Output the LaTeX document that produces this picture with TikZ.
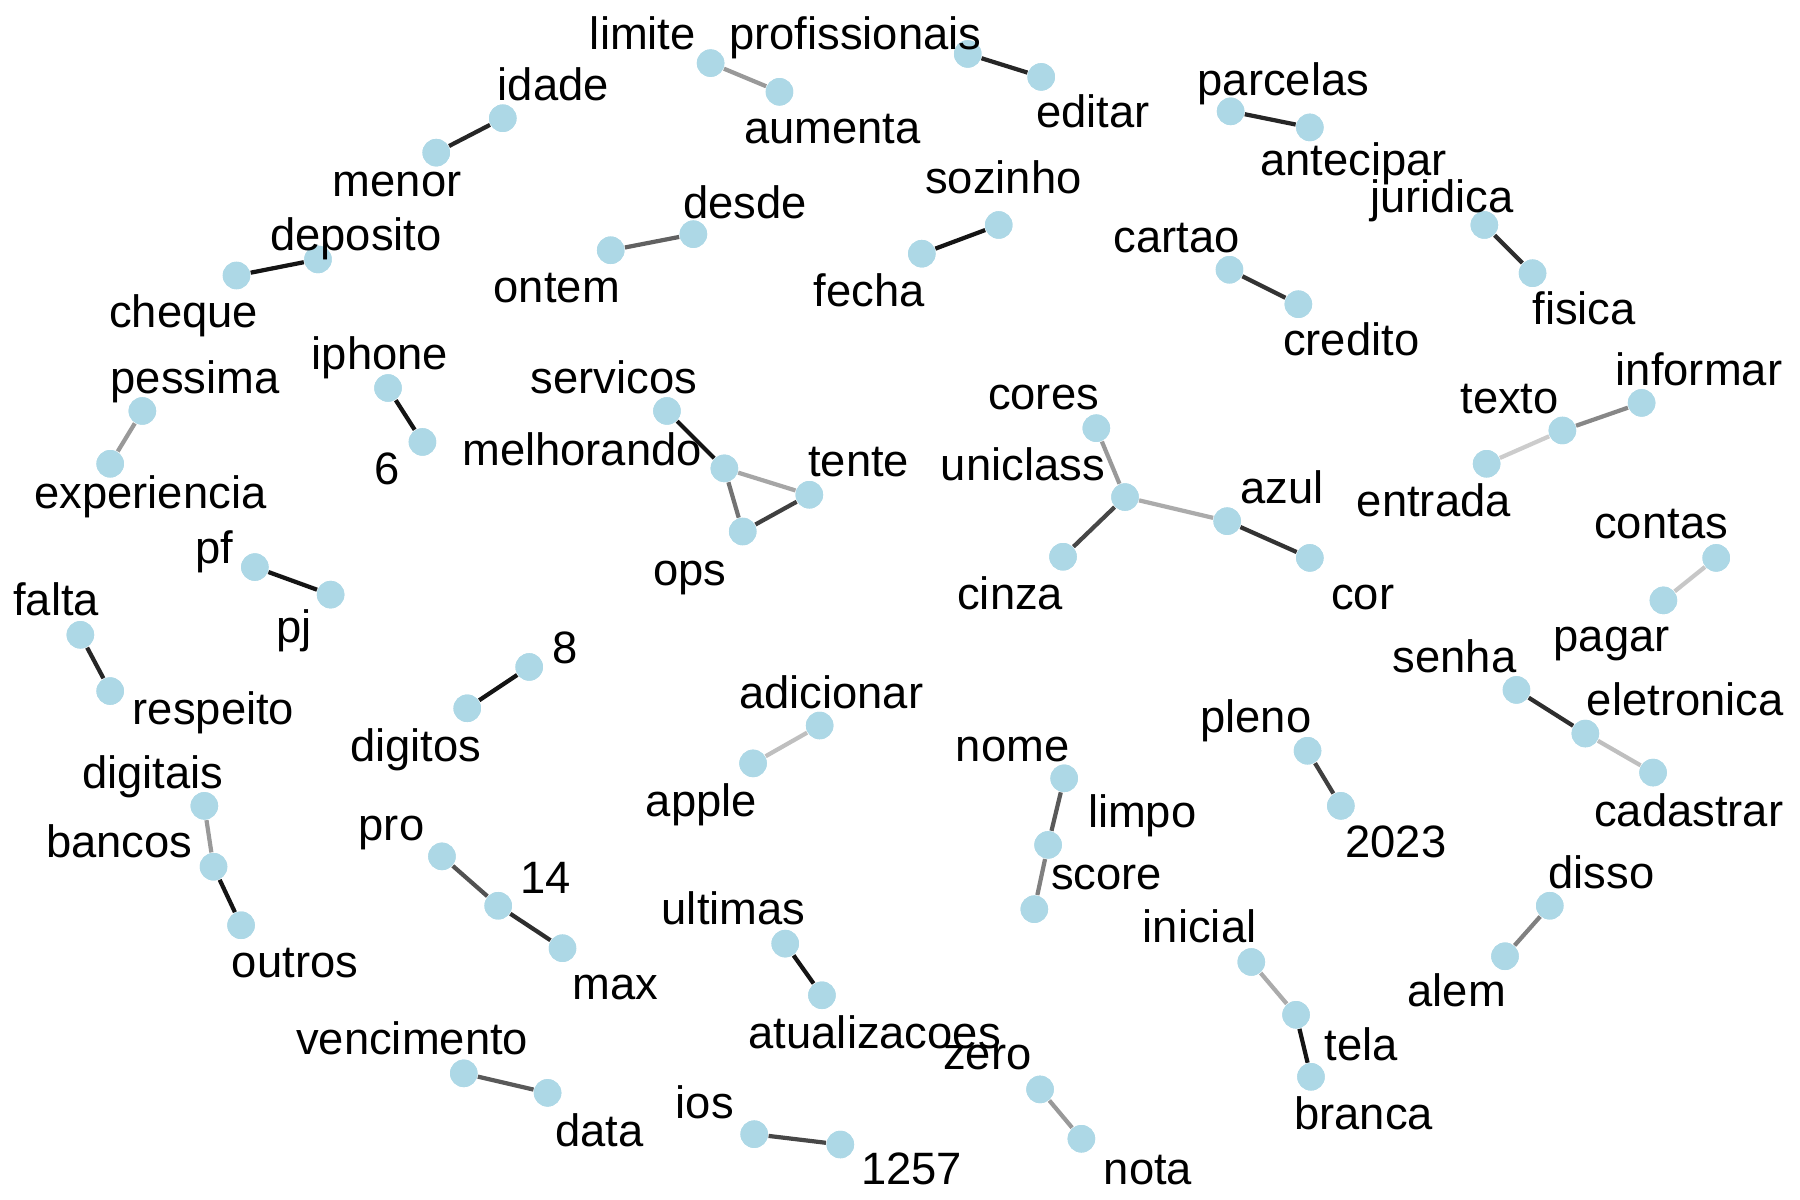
\documentclass[tikz,border=0pt]{standalone}
\usepackage{fontspec}
\setmainfont{Liberation Sans}
\definecolor{dotblue}{RGB}{173,216,230}
\begin{document}
\begin{tikzpicture}[x=0.01148cm,y=-0.01148cm,
    wd/.style={circle,fill=dotblue,inner sep=0pt,minimum size=2.75mm},
    lbl/.style={font=\fontsize{12.9}{15}\selectfont,inner sep=0pt,text height=0.72em,text depth=0.2em,yshift=-0.57mm},
    lk/.style={line width=1.2pt,draw=black!#1},
  ]
\useasboundingbox (0,0) rectangle (1568,1045);
% words
\node[wd] (limite) at (619,55) {};
\node[wd] (aumenta) at (679,80) {};
\node[wd] (profissionais) at (843,47) {};
\node[wd] (editar) at (907,67) {};
\node[wd] (idade) at (438,103) {};
\node[wd] (menor) at (380,133) {};
\node[wd] (parcelas) at (1072,97) {};
\node[wd] (antecipar) at (1141,111) {};
\node[wd] (desde) at (604,204) {};
\node[wd] (ontem) at (532,218) {};
\node[wd] (sozinho) at (870,196) {};
\node[wd] (fecha) at (803,221) {};
\node[wd] (deposito) at (277,226) {};
\node[wd] (cheque) at (206,240) {};
\node[wd] (juridica) at (1293,196) {};
\node[wd] (fisica) at (1335,238) {};
\node[wd] (cartao) at (1071,235) {};
\node[wd] (credito) at (1131,265) {};
\node[wd] (pessima) at (124,358) {};
\node[wd] (experiencia) at (96,404) {};
\node[wd] (iphone) at (338,338) {};
\node[wd] (n6) at (368,385) {};
\node[wd] (servicos) at (581,358) {};
\node[wd] (melhorando) at (631,408) {};
\node[wd] (tente) at (705,431) {};
\node[wd] (ops) at (647,463) {};
\node[wd] (cores) at (955,373) {};
\node[wd] (uniclass) at (980,433) {};
\node[wd] (cinza) at (926,485) {};
\node[wd] (azul) at (1069,454) {};
\node[wd] (cor) at (1141,486) {};
\node[wd] (texto) at (1361,375) {};
\node[wd] (informar) at (1430,351) {};
\node[wd] (entrada) at (1295,404) {};
\node[wd] (contas) at (1495,486) {};
\node[wd] (pagar) at (1449,523) {};
\node[wd] (pf) at (222,494) {};
\node[wd] (pj) at (288,518) {};
\node[wd] (falta) at (70,553) {};
\node[wd] (respeito) at (96,602) {};
\node[wd] (n8) at (461,581) {};
\node[wd] (digitos) at (407,617) {};
\node[wd] (adicionar) at (714,632) {};
\node[wd] (apple) at (656,665) {};
\node[wd] (senha) at (1321,601) {};
\node[wd] (eletronica) at (1381,639) {};
\node[wd] (cadastrar) at (1440,673) {};
\node[wd] (pleno) at (1139,654) {};
\node[wd] (n2023) at (1168,702) {};
\node[wd] (nome) at (927,678) {};
\node[wd] (limpo) at (913,736) {};
\node[wd] (score) at (901,792) {};
\node[wd] (digitais) at (178,702) {};
\node[wd] (bancos) at (186,755) {};
\node[wd] (outros) at (210,806) {};
\node[wd] (pro) at (385,746) {};
\node[wd] (n14) at (434,789) {};
\node[wd] (max) at (490,826) {};
\node[wd] (ultimas) at (684,822) {};
\node[wd] (atualizacoes) at (716,867) {};
\node[wd] (disso) at (1350,789) {};
\node[wd] (alem) at (1311,833) {};
\node[wd] (inicial) at (1090,838) {};
\node[wd] (tela) at (1129,884) {};
\node[wd] (branca) at (1142,938) {};
\node[wd] (vencimento) at (404,935) {};
\node[wd] (data) at (477,952) {};
\node[wd] (zero) at (906,949) {};
\node[wd] (nota) at (942,992) {};
\node[wd] (ios) at (657,988) {};
\node[wd] (n1257) at (732,997) {};
% bigram links
\draw[lk=40] (limite) -- (aumenta);
\draw[lk=85] (profissionais) -- (editar);
\draw[lk=85] (idade) -- (menor);
\draw[lk=85] (parcelas) -- (antecipar);
\draw[lk=62] (desde) -- (ontem);
\draw[lk=92] (sozinho) -- (fecha);
\draw[lk=92] (deposito) -- (cheque);
\draw[lk=82] (juridica) -- (fisica);
\draw[lk=80] (cartao) -- (credito);
\draw[lk=40] (pessima) -- (experiencia);
\draw[lk=92] (iphone) -- (n6);
\draw[lk=92] (servicos) -- (melhorando);
\draw[lk=35] (melhorando) -- (tente);
\draw[lk=55] (melhorando) -- (ops);
\draw[lk=75] (ops) -- (tente);
\draw[lk=40] (cores) -- (uniclass);
\draw[lk=72] (uniclass) -- (cinza);
\draw[lk=33] (uniclass) -- (azul);
\draw[lk=80] (azul) -- (cor);
\draw[lk=20] (entrada) -- (texto);
\draw[lk=47] (texto) -- (informar);
\draw[lk=22] (contas) -- (pagar);
\draw[lk=92] (pf) -- (pj);
\draw[lk=85] (falta) -- (respeito);
\draw[lk=92] (n8) -- (digitos);
\draw[lk=25] (adicionar) -- (apple);
\draw[lk=82] (senha) -- (eletronica);
\draw[lk=25] (eletronica) -- (cadastrar);
\draw[lk=75] (pleno) -- (n2023);
\draw[lk=65] (nome) -- (limpo);
\draw[lk=50] (limpo) -- (score);
\draw[lk=40] (digitais) -- (bancos);
\draw[lk=92] (bancos) -- (outros);
\draw[lk=68] (pro) -- (n14);
\draw[lk=82] (n14) -- (max);
\draw[lk=92] (ultimas) -- (atualizacoes);
\draw[lk=50] (disso) -- (alem);
\draw[lk=33] (inicial) -- (tela);
\draw[lk=92] (tela) -- (branca);
\draw[lk=65] (vencimento) -- (data);
\draw[lk=40] (zero) -- (nota);
\draw[lk=72] (ios) -- (n1257);
% redraw dots over the links
\foreach \w in {limite,aumenta,profissionais,editar,idade,menor,parcelas,antecipar,
  desde,ontem,sozinho,fecha,deposito,cheque,juridica,fisica,cartao,credito,
  pessima,experiencia,iphone,n6,servicos,melhorando,tente,ops,cores,uniclass,
  cinza,azul,cor,texto,informar,entrada,contas,pagar,pf,pj,falta,respeito,n8,
  digitos,adicionar,apple,senha,eletronica,cadastrar,pleno,n2023,nome,limpo,
  score,digitais,bancos,outros,pro,n14,max,ultimas,atualizacoes,disso,alem,
  inicial,tela,branca,vencimento,data,zero,nota,ios,n1257}
  \fill[dotblue] (\w) circle (1.375mm);
% labels
\node[lbl] (limite-t) at (560,30) {limite};
\node[lbl] (aumenta-t) at (725,112) {aumenta};
\node[lbl] (profissionais-t) at (745,30) {profissionais};
\node[lbl] (editar-t) at (952,98) {editar};
\node[lbl] (idade-t) at (482,75) {idade};
\node[lbl] (menor-t) at (346,158) {menor};
\node[lbl] (parcelas-t) at (1118,70) {parcelas};
\node[lbl] (antecipar-t) at (1179,140) {antecipar};
\node[lbl] (desde-t) at (649,177) {desde};
\node[lbl] (ontem-t) at (485,251) {ontem};
\node[lbl] (sozinho-t) at (874,156) {sozinho};
\node[lbl] (fecha-t) at (757,254) {fecha};
\node[lbl] (deposito-t) at (310,205) {deposito};
\node[lbl] (cheque-t) at (160,272) {cheque};
\node[lbl] (juridica-t) at (1256,172) {juridica};
\node[lbl] (fisica-t) at (1380,270) {fisica};
\node[lbl] (cartao-t) at (1025,207) {cartao};
\node[lbl] (credito-t) at (1177,297) {credito};
\node[lbl] (pessima-t) at (170,330) {pessima};
\node[lbl] (experiencia-t) at (131,430) {experiencia};
\node[lbl] (iphone-t) at (331,309) {iphone};
\node[lbl] (n6-t) at (337,409) {6};
\node[lbl] (servicos-t) at (535,330) {servicos};
\node[lbl] (melhorando-t) at (507,393) {melhorando};
\node[lbl] (tente-t) at (748,402) {tente};
\node[lbl] (ops-t) at (601,497) {ops};
\node[lbl] (cores-t) at (909,344) {cores};
\node[lbl] (uniclass-t) at (891,406) {uniclass};
\node[lbl] (cinza-t) at (880,518) {cinza};
\node[lbl] (azul-t) at (1117,426) {azul};
\node[lbl] (cor-t) at (1187,518) {cor};
\node[lbl] (texto-t) at (1315,347) {texto};
\node[lbl] (informar-t) at (1480,323) {informar};
\node[lbl] (entrada-t) at (1249,437) {entrada};
\node[lbl] (contas-t) at (1447,456) {contas};
\node[lbl] (pagar-t) at (1404,555) {pagar};
\node[lbl] (pf-t) at (187,478) {pf};
\node[lbl] (pj-t) at (256,547) {pj};
\node[lbl] (falta-t) at (49,523) {falta};
\node[lbl] (respeito-t) at (186,618) {respeito};
\node[lbl] (n8-t) at (492,565) {8};
\node[lbl] (digitos-t) at (362,650) {digitos};
\node[lbl] (adicionar-t) at (724,604) {adicionar};
\node[lbl] (apple-t) at (611,698) {apple};
\node[lbl] (senha-t) at (1267,573) {senha};
\node[lbl] (eletronica-t) at (1468,610) {eletronica};
\node[lbl] (cadastrar-t) at (1471,707) {cadastrar};
\node[lbl] (pleno-t) at (1094,625) {pleno};
\node[lbl] (n2023-t) at (1216,734) {2023};
\node[lbl] (nome-t) at (882,650) {nome};
\node[lbl] (limpo-t) at (995,708) {limpo};
\node[lbl] (score-t) at (964,762) {score};
\node[lbl] (digitais-t) at (133,674) {digitais};
\node[lbl] (bancos-t) at (104,734) {bancos};
\node[lbl] (outros-t) at (257,839) {outros};
\node[lbl] (pro-t) at (341,719) {pro};
\node[lbl] (n14-t) at (475,765) {14};
\node[lbl] (max-t) at (536,858) {max};
\node[lbl] (ultimas-t) at (639,792) {ultimas};
\node[lbl] (atualizacoes-t) at (762,900) {atualizacoes};
\node[lbl] (disso-t) at (1395,761) {disso};
\node[lbl] (alem-t) at (1269,864) {alem};
\node[lbl] (inicial-t) at (1045,808) {inicial};
\node[lbl] (tela-t) at (1186,911) {tela};
\node[lbl] (branca-t) at (1188,971) {branca};
\node[lbl] (vencimento-t) at (359,906) {vencimento};
\node[lbl] (data-t) at (522,986) {data};
\node[lbl] (zero-t) at (860,919) {zero};
\node[lbl] (nota-t) at (1000,1019) {nota};
\node[lbl] (ios-t) at (614,961) {ios};
\node[lbl] (n1257-t) at (794,1019) {1257};
\end{tikzpicture}
\end{document}
